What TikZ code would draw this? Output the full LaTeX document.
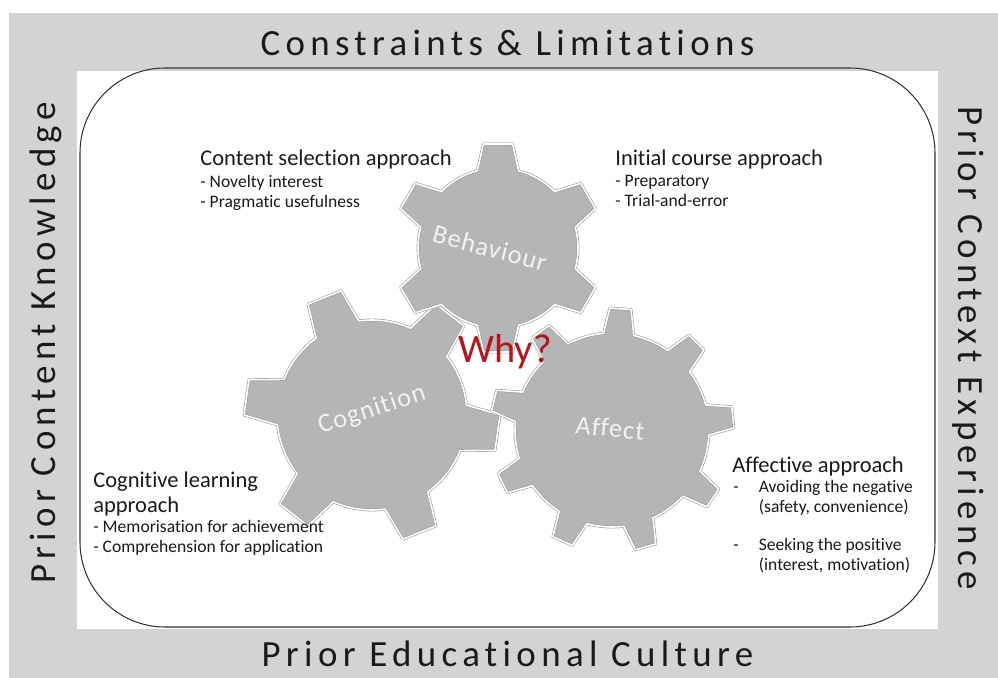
\documentclass[tikz,border=0pt]{standalone}
\usepackage{fontspec}
\setmainfont{Carlito}[Ligatures=NoCommon]
\newfontfamily\bandfont[LetterSpace=14.5, Ligatures=NoCommon]{Carlito}
\newfontfamily\gearfont[LetterSpace=4, Ligatures=NoCommon]{Carlito}
\usetikzlibrary{positioning}
\definecolor{BandGrey}{HTML}{D3D3D3}
\definecolor{GearFill}{HTML}{B3B5B7}
\definecolor{GearEdge}{HTML}{9C9EA0}
\definecolor{GearText}{HTML}{F2F2F2}
\definecolor{WhyRed}{HTML}{B8141C}
\definecolor{TextDark}{HTML}{1A1A1A}

% gear outline: #1 teeth, #2 angle of first tooth, #3 body radius,
% #4 tip radius, #5 half width at base, #6 half width at tip (degrees)
\newcommand{\gearpath}[6]{%
  ({#2-#5}:#3)
  \foreach \k [evaluate=\k as \a using {#2+360*(\k-1)/#1}] in {1,...,#1}{
    -- ({\a-#6}:#4) -- ({\a+#6}:#4) -- ({\a+#5}:#3)
    arc[start angle={\a+#5}, end angle={\a+360/#1-#5}, radius=#3]
  } -- cycle}

\begin{document}
\begin{tikzpicture}[
    band/.style={font=\bandfont\fontsize{21}{25}\selectfont, color=TextDark, inner sep=0pt, anchor=base},
    frame/.style={draw=black!80, line width=0.6pt, rounded corners=1.7cm},
    gear/.style={fill=GearFill, draw=GearEdge, line width=1.6pt, line join=round},
    bevel/.style={draw=white, line width=0.9pt, line join=round},
    gearlbl/.style={font=\gearfont\fontsize{15}{18}\selectfont, color=GearText, inner sep=0pt},
    head/.style={font=\fontsize{12.8}{14.2}\selectfont, color=TextDark, inner sep=0pt, align=left},
    items/.style={font=\fontsize{10}{11.4}\selectfont, color=TextDark, inner sep=0pt, align=left},
    why/.style={font=\fontsize{23}{27}\selectfont, color=WhyRed, inner sep=0pt}
  ]
  \useasboundingbox (0,0) rectangle (19.96,-13.56);

  % grey border band and white field
  \fill[BandGrey] (0.18,-0.26) rectangle (19.96,-13.56);
  \fill[white] (1.54,-1.42) rectangle (18.76,-12.58);
  \draw[frame] (1.60,-1.36) rectangle (18.70,-12.54);

  % band labels
  \node[band] (constraints) at (10.15,-1.10) {Constraints \& Limitations};
  \node[band] (culture) at (10.15,-13.32) {Prior Educational Culture};
  \node[band, rotate=90] (knowledge) at (1.10,-6.86) {Prior Content Knowledge};
  \node[band, rotate=-90] (experience) at (19.16,-6.96) {Prior Context Experience};

  % gears
  \begin{scope}[shift={(7.44,-8.30)}]
    \path[gear] \gearpath{6}{52}{1.9}{2.56}{14}{8};
    \path[bevel] \gearpath{6}{52}{1.9}{2.56}{14}{8};
  \end{scope}
  \begin{scope}[shift={(12.24,-8.60)}]
    \path[gear] \gearpath{9}{6}{1.94}{2.44}{9}{5};
    \path[bevel] \gearpath{9}{6}{1.94}{2.44}{9}{5};
  \end{scope}
  \begin{scope}[shift={(9.96,-4.96)}]
    \path[gear] \gearpath{6}{90}{1.6}{2.1}{15}{8};
    \path[bevel] \gearpath{6}{90}{1.6}{2.1}{15}{8};
  \end{scope}

  \node[gearlbl, rotate=-15] (behaviour) at (9.80,-4.96) {Behaviour};
  \node[gearlbl, rotate=18] (cognition) at (7.44,-8.20) {Cognition};
  \node[gearlbl, rotate=-6] (affect) at (12.20,-8.56) {Affect};
  \node[why] (why) at (10.10,-7.04) {Why?};

  % approaches
  \node[head, anchor=base west] (content) at (4.00,-3.30) {Content selection approach};
  \node[items, anchor=north west] (contentlist) at (4.00,-3.50)
    {- Novelty interest\\- Pragmatic usefulness};

  \node[head, anchor=base west] (initial) at (12.30,-3.30) {Initial course approach};
  \node[items, anchor=north west] (initiallist) at (12.30,-3.50)
    {- Preparatory\\- Trial-and-error};

  \node[head, anchor=north west] (cogapp) at (1.86,-9.44) {Cognitive learning\\approach};
  \node[items, anchor=north west] (coglist) at (1.86,-10.40)
    {- Memorisation for achievement\\- Comprehension for application};

  \node[head, anchor=base west] (affapp) at (14.64,-9.44) {Affective approach};
  \node[items, anchor=north west] (afflist) at (14.66,-9.56)
    {\begin{tabular}{@{}p{14.5pt}@{}l@{}}
      - & Avoiding the negative\\
        & (safety, convenience)\\[10pt]
      - & Seeking the positive\\
        & (interest, motivation)
     \end{tabular}};
\end{tikzpicture}
\end{document}
